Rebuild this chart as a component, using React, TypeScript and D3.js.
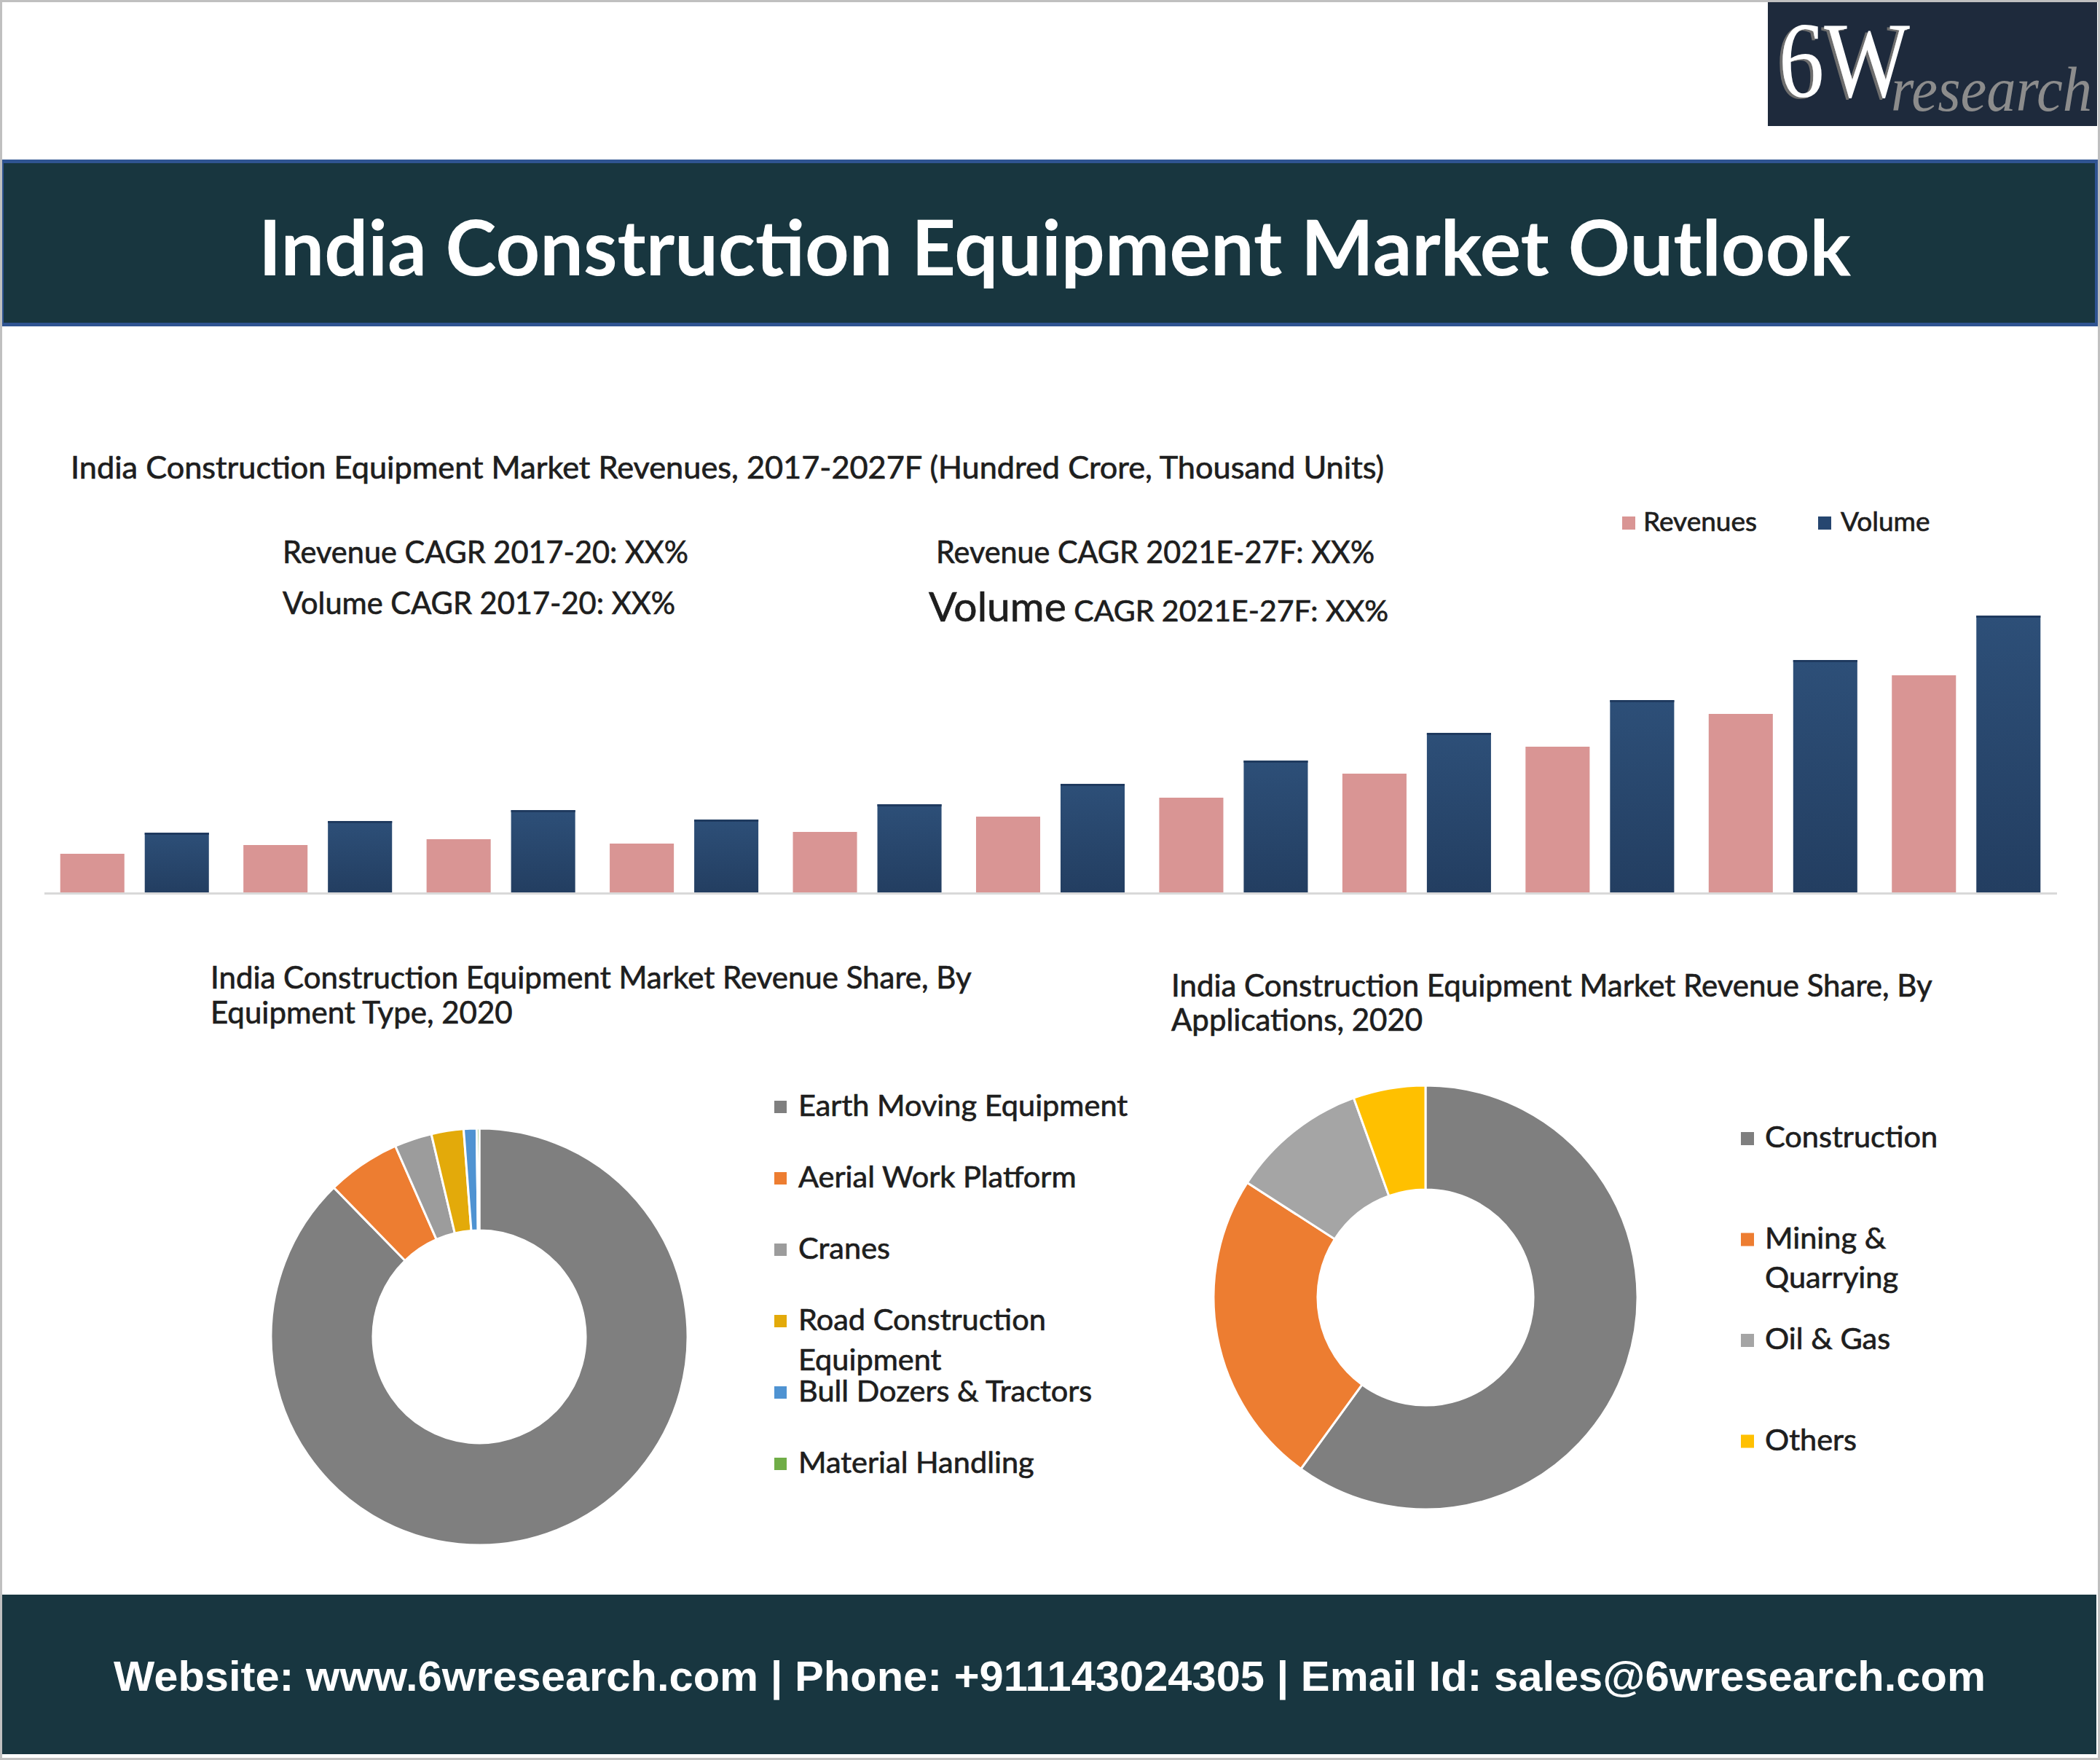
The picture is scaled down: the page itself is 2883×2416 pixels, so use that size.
import React from 'react';
import * as d3 from 'd3';

// page size
const W = 2883;
const H = 2416;

// market revenues (hundred crore) and volume (thousand units), 2017-2027F
const years = ['2017', '2018', '2019', '2020', '2021E', '2022F', '2023F', '2024F', '2025F', '2026F', '2027F'];
const revenues = [5.3, 6.5, 7.3, 6.7, 8.3, 10.4, 13.0, 16.3, 20.0, 24.5, 29.8];
const volume = [8.2, 9.8, 11.3, 10.0, 12.1, 14.9, 18.1, 21.9, 26.4, 31.9, 38.0];

// revenue share by equipment type, 2020 (%)
const equipmentTypes = ['Earth Moving Equipment', 'Aerial Work Platform', 'Cranes', 'Road Construction Equipment', 'Bull Dozers & Tractors', 'Material Handling'];
const equipmentShare = [87.7, 5.7, 2.9, 2.5, 1.0, 0.2];
const equipmentColors = ['#7f7f7f', '#ed7d31', '#9c9c9c', '#e3aa0a', '#4f93d2', '#70ad47'];
const equipmentLegendLines = [['Earth Moving Equipment'], ['Aerial Work Platform'], ['Cranes'], ['Road Construction', 'Equipment'], ['Bull Dozers & Tractors'], ['Material Handling']];

// revenue share by applications, 2020 (%)
const applications = ['Construction', 'Mining & Quarrying', 'Oil & Gas', 'Others'];
const applicationShare = [60.0, 24.1, 10.4, 5.5];
const applicationColors = ['#7f7f7f', '#ed7d31', '#a5a5a5', '#ffc000'];
const applicationLegendLines = [['Construction'], ['Mining &', 'Quarrying'], ['Oil & Gas'], ['Others']];

const FONT = "Lato, 'Open Sans', sans-serif";
const TEXT = '#1e1e1e';
// slightly heavier body text
const ink = { fontFamily: FONT, fill: TEXT, stroke: TEXT, strokeWidth: 0.7 };

const REV_COLOR = '#d99594';

type DonutProps = {
  cx: number;
  cy: number;
  outer: number;
  inner: number;
  values: number[];
  colors: string[];
};

const Donut: React.FC<DonutProps> = ({ cx, cy, outer, inner, values, colors }) => {
  const pie = d3.pie<number>().sort(null).value(d => d);
  const arc = d3.arc<d3.PieArcDatum<number>>().innerRadius(inner).outerRadius(outer);
  const arcs = pie(values);
  return (
    <g transform={`translate(${cx},${cy})`}>
      {arcs.map((a, i) => (
        <path key={i} d={arc(a) || ''} fill={colors[i]} stroke="#fff" strokeWidth={3} strokeLinejoin="round" />
      ))}
    </g>
  );
};

type LegendProps = {
  x: number;
  y: number;
  step: number;
  lineGap: number;
  size: number;
  lines: string[][];
  colors: string[];
};

const Legend: React.FC<LegendProps> = ({ x, y, step, lineGap, size, lines, colors }) => (
  <g>
    {lines.map((ls, i) => {
      const base = y + i * step;
      return (
        <g key={i}>
          <rect x={x} y={base - 21} width={size} height={size} fill={colors[i]} />
          {ls.map((t, j) => (
            <text key={j} x={x + 33} y={base + j * lineGap} fontSize={41.5} {...ink}>
              {t}
            </text>
          ))}
        </g>
      );
    })}
  </g>
);

export default function App() {
  // grouped bar chart scales
  const baseY = 1225;
  const x0 = d3.scaleBand<string>().domain(years).range([59, 2825]).paddingInner(0.1885).paddingOuter(0.0943);
  const x1 = d3.scaleBand<string>().domain(['rev', 'vol']).range([0, x0.bandwidth()]).paddingInner(0.241);
  const y = d3.scaleLinear().domain([0, 40]).range([baseY, baseY - 400]);

  return (
    <svg
      width={W}
      height={H}
      viewBox={`0 0 ${W} ${H}`}
      style={{ position: 'absolute', left: 0, top: 0, display: 'block', background: '#fff' }}
    >
      <defs>
        <linearGradient id="volGrad" x1="0" y1="0" x2="0" y2="1">
          <stop offset="0%" stopColor="#2d4f78" />
          <stop offset="100%" stopColor="#233e61" />
        </linearGradient>
        <filter id="logoShadow" x="-10%" y="-10%" width="120%" height="120%">
          <feOffset in="SourceAlpha" dx={-4} dy={2} result="off" />
          <feFlood floodColor="#6e6e6e" />
          <feComposite in2="off" operator="in" result="shadow" />
          <feMerge>
            <feMergeNode in="shadow" />
            <feMergeNode in="SourceGraphic" />
          </feMerge>
        </filter>
      </defs>

      <rect x={0} y={0} width={W} height={H} fill="#fff" />

      {/* logo */}
      <rect x={2427} y={2} width={452} height={171} fill="#1e2a3c" />
      <text x={2442} y={133} fontFamily="'Liberation Serif', serif" fontSize={148} fill="#fff" textLength={180} lengthAdjust="spacingAndGlyphs" filter="url(#logoShadow)">6W</text>
      <text x={2596} y={152} fontFamily="'Liberation Serif', serif" fontStyle="italic" fontSize={86} fill="#8c8c8c" textLength={276} lengthAdjust="spacingAndGlyphs">research</text>

      {/* title band */}
      <rect x={2.5} y={221.5} width={2876} height={224} fill="#18363f" stroke="#2f5491" strokeWidth={5} />
      <text x={355} y={378} fontFamily="Lato, sans-serif" fontWeight={700} fontSize={106} fill="#fff" textLength={2186} lengthAdjust="spacingAndGlyphs">
        India Construction Equipment Market Outlook
      </text>

      {/* bar chart heading and growth notes */}
      <text x={97} y={657} fontSize={43} {...ink} textLength={1803} lengthAdjust="spacingAndGlyphs">
        India Construction Equipment Market Revenues, 2017-2027F (Hundred Crore, Thousand Units)
      </text>
      <text x={388} y={773} fontSize={43} {...ink} textLength={557} lengthAdjust="spacingAndGlyphs">Revenue CAGR 2017-20: XX%</text>
      <text x={388} y={843} fontSize={43} {...ink} textLength={539} lengthAdjust="spacingAndGlyphs">Volume CAGR 2017-20: XX%</text>
      <text x={1285} y={773} fontSize={43} {...ink} textLength={602} lengthAdjust="spacingAndGlyphs">Revenue CAGR 2021E-27F: XX%</text>
      <text x={1275} y={853} fontSize={41} {...ink}>
        <tspan fontSize={57}>Volume</tspan>
        <tspan> CAGR 2021E-27F: XX%</tspan>
      </text>

      {/* bar legend */}
      <rect x={2227} y={709} width={18} height={18} fill={REV_COLOR} />
      <text x={2256} y={729} fontSize={37} {...ink}>Revenues</text>
      <rect x={2496} y={709} width={18} height={18} fill="#264670" />
      <text x={2527} y={729} fontSize={37} {...ink}>Volume</text>

      {/* bars */}
      <line x1={61} x2={2824} y1={baseY + 1.5} y2={baseY + 1.5} stroke="#d9d9d9" strokeWidth={3} />
      {years.map((yr, i) => (
        <g key={yr} transform={`translate(${x0(yr)},0)`}>
          <rect x={x1('rev')} y={y(revenues[i])} width={x1.bandwidth()} height={baseY - y(revenues[i])} fill={REV_COLOR} />
          <rect x={x1('vol')} y={y(volume[i])} width={x1.bandwidth()} height={baseY - y(volume[i])} fill="url(#volGrad)" />
          <rect x={x1('vol')} y={y(volume[i])} width={x1.bandwidth()} height={3} fill="#1f3a5f" />
        </g>
      ))}

      {/* equipment type donut */}
      <text fontSize={42} {...ink}>
        <tspan x={289} y={1357}>India Construction Equipment Market Revenue Share, By</tspan>
        <tspan x={289} y={1405}>Equipment Type, 2020</tspan>
      </text>
      <Donut cx={658} cy={1835} outer={286} inner={146} values={equipmentShare} colors={equipmentColors} />
      <Legend x={1063} y={1532} step={98} lineGap={55} size={17} lines={equipmentLegendLines} colors={equipmentColors} />

      {/* applications donut */}
      <text fontSize={42} {...ink}>
        <tspan x={1608} y={1368}>India Construction Equipment Market Revenue Share, By</tspan>
        <tspan x={1608} y={1415}>Applications, 2020</tspan>
      </text>
      <Donut cx={1957} cy={1781} outer={291} inner={148} values={applicationShare} colors={applicationColors} />
      <Legend x={2390} y={1575} step={138.5} lineGap={54} size={18} lines={applicationLegendLines} colors={applicationColors} />

      {/* footer */}
      <rect x={3} y={2189} width={2875} height={219} fill="#183640" />
      <text x={156} y={2321} fontFamily="'Liberation Sans', Arial, sans-serif" fontWeight={700} fontSize={58} fill="#fff" textLength={2570} lengthAdjust="spacingAndGlyphs">
        Website: www.6wresearch.com | Phone: +911143024305 | Email Id: sales@6wresearch.com
      </text>

      {/* outer frame */}
      <rect x={1.5} y={1.5} width={W - 3} height={H - 3} fill="none" stroke="#c0c0c0" strokeWidth={3} />
    </svg>
  );
}
